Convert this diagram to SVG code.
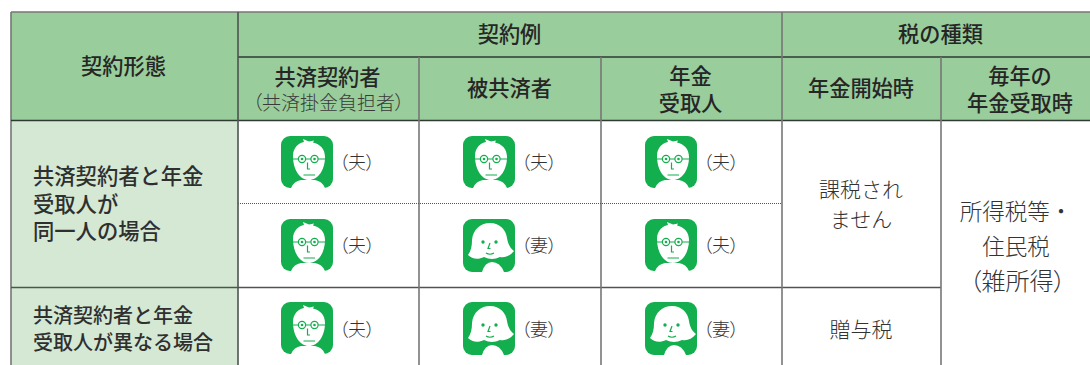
<svg xmlns="http://www.w3.org/2000/svg" width="1090" height="365" viewBox="0 0 1090 365">
<style>
text{font-family:"Noto Sans CJK JP","Noto Sans",sans-serif;fill:#2f2f2f}
.h{font-size:21.200px;font-weight:500;text-anchor:middle;fill:#262626}
.b{font-size:21.300px;font-weight:500}
.b2{font-size:20px;font-weight:500}
.c{font-size:21px;font-weight:300;text-anchor:middle;fill:#333}
.big{font-size:22.500px}
.pa{font-size:24px;font-feature-settings:"palt"}
.s{font-size:18px;font-weight:300;fill:#333;font-feature-settings:"palt"}
.s2{font-size:19px;font-weight:300;fill:#3a3a3a;text-anchor:middle;font-feature-settings:"palt"}
.hd{fill:#99cd9b}.lt{fill:#d4e8d3}
.d{stroke:#4f5450;stroke-width:1.6;fill:none}
.g{stroke:#777;stroke-width:1.6;fill:none}
.k{stroke:#2f3a33;stroke-width:1.6;fill:none}
.dot{stroke:#555;stroke-width:1;stroke-dasharray:1 1;fill:none}
.gr{fill:#13ae4e}.w{fill:#fff}
.gl{stroke:#13ae4e;stroke-width:1.200;fill:none}
</style>
<defs>
<g id="man">
<rect class="gr" width="52" height="52" rx="9"/>
<path class="w" d="M10 52Q13 45 20 44H34Q41 45 44 52Z"/>
<path class="w" d="M12 20C12 11 18 7 23 6L22 3L28 5.500L33 4.500L32 6.500C39 8 44 13 44 21C44 34 37 44 28 44C19 44 12 34 12 20Z"/>
<circle class="gl" cx="21" cy="23" r="3.600"/><circle class="gl" cx="33.500" cy="23" r="3.600"/>
<path class="gl" d="M12 23H17.400M24.600 23H29.900M37.100 23H44"/>
<circle class="gr" cx="21" cy="23" r="1.300"/><circle class="gr" cx="33.500" cy="23" r="1.300"/>
<path class="gl" stroke-width="1.300" d="M26.500 26.500V33H29M22.500 39H34"/>
</g>
<g id="woman">
<rect class="gr" width="52" height="53" rx="9"/>
<path class="w" d="M9 21C10 10 18 4 27 4C37 4 43 11 44 19C45 25 47 29 51 32C47 37 42 39 37 38Q29 42 21 38C15 41 9 40 5 36C8 32 9 27 9 21Z"/>
<path class="w" d="M19 53Q22 43 29 43Q37 43 41 53Z"/>
<circle class="gr" cx="20" cy="23" r="1.700"/><circle class="gr" cx="33" cy="23" r="1.700"/>
<path class="gl" d="M27 24L25 29.500H27.500M23 34Q27 36.500 31 34"/>
</g>
</defs>
<g id="cells">
<rect class="hd" x="11" y="12" width="1079" height="108"/>
<rect class="lt" x="11" y="120" width="227" height="245"/>
</g>
<g id="connectors">
<path class="g" d="M11 12H1090M11 12V365"/>
<path class="k" d="M238 57H1090M11 120.500H1090"/>
<path class="d" d="M11 287.500H941M238 12V365"/>
<path class="g" d="M419 57V365M601 57V365M782 12V365M941 57V365"/>
<path class="dot" d="M238 203.500H782"/>
</g>
<g id="head-type"><text class="h" x="123.500" y="74">契約形態</text></g>
<g id="head-example"><text class="h" x="509.500" y="42">契約例</text></g>
<g id="head-tax"><text class="h" x="940.500" y="42">税の種類</text></g>
<g id="head-holder"><text class="h" x="327.500" y="85">共済契約者</text><text class="s2" x="328.500" y="110">（共済掛金負担者）</text></g>
<g id="head-insured"><text class="h" x="509.500" y="96">被共済者</text></g>
<g id="head-recipient"><text class="h" x="690.500" y="84">年金</text><text class="h" x="690.500" y="111">受取人</text></g>
<g id="head-start"><text class="h" x="861" y="96">年金開始時</text></g>
<g id="head-yearly"><text class="h" x="1020" y="84">毎年の</text><text class="h" x="1020" y="111">年金受取時</text></g>
<g id="row-same"><text class="b" x="33" y="184">共済契約者と年金</text><text class="b" x="33" y="212">受取人が</text><text class="b" x="33" y="239">同一人の場合</text></g>
<g id="row-diff"><text class="b2" x="33" y="323">共済契約者と年金</text><text class="b2" x="33" y="350">受取人が異なる場合</text></g>
<g id="p11"><use href="#man" x="281" y="136"/><text class="s" x="339" y="169">（夫）</text></g>
<g id="p12"><use href="#man" x="463" y="136"/><text class="s" x="521" y="169">（夫）</text></g>
<g id="p13"><use href="#man" x="645" y="136"/><text class="s" x="703" y="169">（夫）</text></g>
<g id="p21"><use href="#man" x="281" y="219"/><text class="s" x="339" y="252">（夫）</text></g>
<g id="p22"><use href="#woman" x="463" y="219"/><text class="s" x="521" y="252">（妻）</text></g>
<g id="p23"><use href="#man" x="645" y="219"/><text class="s" x="703" y="252">（夫）</text></g>
<g id="p31"><use href="#man" x="281" y="302"/><text class="s" x="339" y="336">（夫）</text></g>
<g id="p32"><use href="#woman" x="463" y="302"/><text class="s" x="521" y="336">（妻）</text></g>
<g id="p33"><use href="#woman" x="645" y="302"/><text class="s" x="703" y="336">（妻）</text></g>
<g id="tax-none"><text class="c" x="861" y="197">課税され</text><text class="c" x="861" y="227">ません</text></g>
<g id="tax-gift"><text class="c" x="861" y="337">贈与税</text></g>
<g id="tax-income"><text class="c big" x="1016" y="220">所得税等・</text><text class="c big" x="1016" y="255">住民税</text><text class="c pa" x="1017.500" y="290">（雑所得）</text></g>
</svg>
